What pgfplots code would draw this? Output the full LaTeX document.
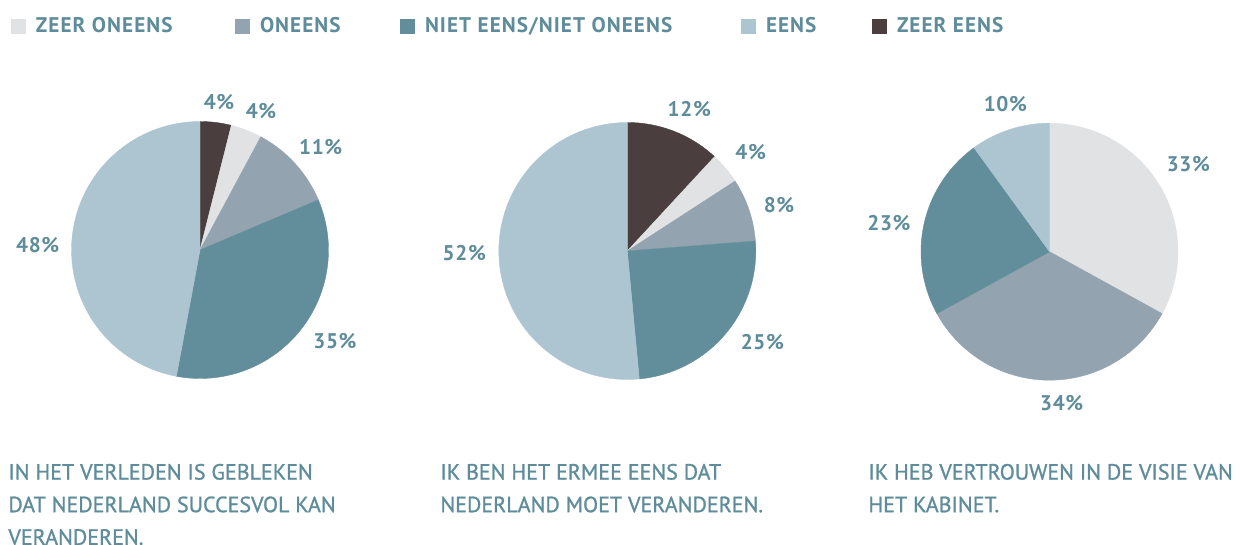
\documentclass[border=0pt]{standalone}
\usepackage{pgfplots}
\pgfplotsset{compat=1.18}
\usepackage{fontspec}
\setmainfont{PT Sans}
\newfontfamily\legfont[LetterSpace=5]{PT Sans Bold}
\newfontfamily\pctfam[LetterSpace=3]{PT Sans Bold}
\newfontfamily\capfam[FakeBold=1]{PT Sans}
\definecolor{cZO}{HTML}{E1E2E4}
\definecolor{cO}{HTML}{93A3AF}
\definecolor{cN}{HTML}{628E9B}
\definecolor{cE}{HTML}{ADC5D1}
\definecolor{cZE}{HTML}{4A3F3E}
\definecolor{txt}{HTML}{5E8C9A}
\newcommand\pctfont{\pctfam\fontsize{10.6bp}{12bp}\selectfont}
\newcommand\capfont{\capfam\fontsize{11bp}{16.3bp}\selectfont}
% #1 = centre x, #2 = centre y, #3 = list value/colour/label x/label y (clockwise from 12 o'clock)
\newcommand\drawpie[3]{%
  \xdef\pietotal{0}%
  \foreach \v/\c/\lx/\ly in {#3}{\pgfmathsetmacro\tmpt{\pietotal+\v}\xdef\pietotal{\tmpt}}%
  \pgfmathsetmacro\piefac{360/\pietotal}%
  \xdef\piefac{\piefac}%
  \xdef\piecum{0}%
  \foreach \v/\c/\lx/\ly in {#3}{%
    \pgfmathsetmacro\aS{90-\piefac*\piecum}%
    \pgfmathsetmacro\aE{90-\piefac*(\piecum+\v)}%
    \edef\tmp{\noexpand\addplot[forget plot, fill=\c, draw=\c, line width=0.2pt,
        domain=\aE:\aS, samples=60, variable=\noexpand\t]
        ({#1+128.5*cos(\noexpand\t)},{#2+128.5*sin(\noexpand\t)}) -- (axis cs:#1,#2) -- cycle;
      \noexpand\node[font=\noexpand\pctfont, text=txt, inner sep=0pt] at (axis cs:\lx,\ly) {\v\noexpand\%};}%
    \tmp
    \pgfmathsetmacro\tmpc{\piecum+\v}\xdef\piecum{\tmpc}%
  }%
}
\begin{document}
\begin{tikzpicture}
\begin{axis}[
  width=620bp, height=272.5bp, scale only axis,
  xmin=0, xmax=1240, ymin=0, ymax=545,
  hide axis, clip=false,
  legend image code/.code={\fill[#1, draw=none] (0bp,-3.75bp) rectangle (7.5bp,3.75bp);},
  legend style={at={(axis cs:11,518.5)}, anchor=west, draw=none, fill=none,
    inner sep=0pt, outer sep=0pt, legend columns=5,
    nodes={inner sep=0pt, outer sep=0pt},
    font=\legfont\fontsize{10.6bp}{12bp}\selectfont, text=txt,
    /tikz/every odd column/.append style={column sep=5bp},
    /tikz/every even column/.append style={column sep=0bp}},
  legend cell align=left,
]
\addlegendimage{fill=cZO}\addlegendentry{\makebox[99.5bp][l]{ZEER ONEENS}}
\addlegendimage{fill=cO}\addlegendentry{\makebox[70bp][l]{ONEENS}}
\addlegendimage{fill=cN}\addlegendentry{\makebox[158bp][l]{NIET EENS/NIET ONEENS}}
\addlegendimage{fill=cE}\addlegendentry{\makebox[53bp][l]{EENS}}
\addlegendimage{fill=cZE}\addlegendentry{ZEER EENS}

\drawpie{200}{295}{4/cZE/219/443.3, 4/cZO/261/434, 11/cO/320.7/397.7, 35/cN/335/204, 48/cE/37.7/300}
\drawpie{627.3}{294}{12/cZE/689.3/435.7, 4/cZO/750.7/392.7, 8/cO/779/340, 25/cN/762.3/202.7, 52/cE/464.3/291.7}
\drawpie{1049.5}{293.3}{33/cZO/1188.3/380.7, 34/cO/1061.7/142.3, 23/cN/889/321.7, 10/cE/1005.3/440.7}

\node[anchor=north west, align=left, font=\capfont, text=txt, inner sep=0pt]
  at (axis cs:8,81.5) {IN HET VERLEDEN IS GEBLEKEN\\DAT NEDERLAND SUCCESVOL KAN\\VERANDEREN.};
\node[anchor=north west, align=left, font=\capfont, text=txt, inner sep=0pt]
  at (axis cs:440,81.5) {IK BEN HET ERMEE EENS DAT\\NEDERLAND MOET VERANDEREN.};
\node[anchor=north west, align=left, font=\capfont, text=txt, inner sep=0pt]
  at (axis cs:868,81.5) {IK HEB VERTROUWEN IN DE VISIE VAN\\HET KABINET.};
\end{axis}
\pgfresetboundingbox
\path (current axis.south west) rectangle (current axis.north east);
\end{tikzpicture}
\end{document}
